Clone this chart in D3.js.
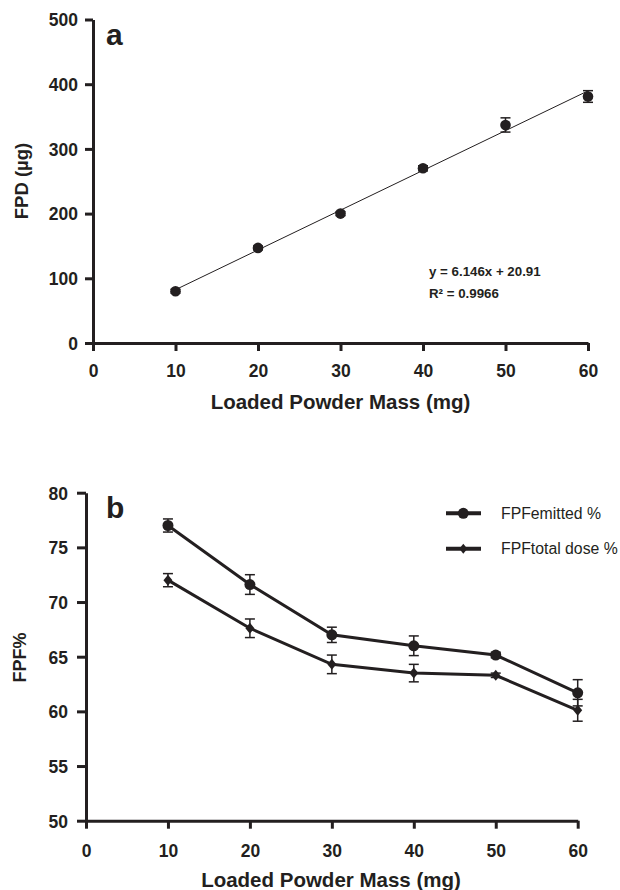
<!DOCTYPE html>
<html>
<head>
<meta charset="utf-8">
<script src="https://cdn.jsdelivr.net/npm/d3@7"></script>
<style>
  html, body { margin: 0; padding: 0; background: #fff; }
  svg { display: block; font-family: "Liberation Sans", Arial, Helvetica, sans-serif; }
</style>
</head>
<body>
<svg id="chart" width="620" height="890"></svg>
<script>
// ---------- Data ----------
const xTicks = [0, 10, 20, 30, 40, 50, 60];
const mass = [10, 20, 30, 40, 50, 60];

// Panel a
const fpd = [80, 147, 200, 270, 337, 381];
const fpdErr = [3, 3, 3, 4, 11, 9];
const fpdTicks = [0, 100, 200, 300, 400, 500];
const slope = 6.146, intercept = 20.91;
const eqLines = ["y = 6.146x + 20.91", "R² = 0.9966"];

// Panel b
const fpfEmitted = [77.0, 71.6, 67.0, 66.0, 65.15, 61.7];
const fpfEmittedErr = [0.6, 0.9, 0.7, 0.9, 0.25, 1.2];
const fpfTotal = [72.0, 67.6, 64.3, 63.5, 63.3, 60.1];
const fpfTotalErr = [0.6, 0.85, 0.85, 0.8, 0.2, 1.0];
const fpfTicks = [50, 55, 60, 65, 70, 75, 80];
const legendLabels = ["FPFemitted %", "FPFtotal dose %"];

const ink = "#231f20";
const svg = d3.select("#chart");

function styleAxis(g) {
  g.selectAll(".domain").attr("stroke", ink).attr("stroke-width", 3);
  g.selectAll(".tick line").attr("stroke", ink).attr("stroke-width", 3);
  g.selectAll(".tick text").attr("fill", ink).attr("font-size", 17.5).attr("font-weight", "bold")
    .attr("font-family", "'Liberation Sans', Arial, sans-serif");
}

function diamondPath(cx, cy, hw, hh) {
  return `M${cx},${cy - hh}L${cx + hw},${cy}L${cx},${cy + hh}L${cx - hw},${cy}Z`;
}

// ---------- Panel a ----------
{
  const x = d3.scaleLinear().domain([0, 60]).range([93, 588]);
  const y = d3.scaleLinear().domain([0, 500]).range([343, 19.5]);
  const g = svg.append("g");

  const xa = g.append("g").attr("transform", `translate(0,${y(0)})`)
    .call(d3.axisBottom(x).tickValues(xTicks).tickSize(8).tickSizeOuter(0).tickPadding(14));
  styleAxis(xa);
  const ya = g.append("g").attr("transform", `translate(${x(0)},0)`)
    .call(d3.axisLeft(y).tickValues(fpdTicks).tickSize(8).tickSizeOuter(0).tickPadding(7));
  styleAxis(ya);
  ya.selectAll(".tick text").attr("dy", "0.36em");

  // regression line
  g.append("line")
    .attr("x1", x(10)).attr("y1", y(slope * 10 + intercept))
    .attr("x2", x(60)).attr("y2", y(slope * 60 + intercept))
    .attr("stroke", ink).attr("stroke-width", 1);

  // error bars
  mass.forEach((m, i) => {
    const cx = x(m), y1 = y(fpd[i] + fpdErr[i]), y2 = y(fpd[i] - fpdErr[i]);
    g.append("line").attr("x1", cx).attr("x2", cx).attr("y1", y1).attr("y2", y2)
      .attr("stroke", ink).attr("stroke-width", 1.5);
    [y1, y2].forEach(yy => g.append("line").attr("x1", cx - 5).attr("x2", cx + 5)
      .attr("y1", yy).attr("y2", yy).attr("stroke", ink).attr("stroke-width", 1.5));
  });

  g.selectAll("circle.pt").data(mass).enter().append("circle")
    .attr("cx", d => x(d)).attr("cy", (d, i) => y(fpd[i])).attr("r", 5.3).attr("fill", ink);

  g.append("text").attr("x", 106).attr("y", 45).text("a")
    .attr("font-size", 30).attr("font-weight", "bold").attr("fill", ink);

  eqLines.forEach((t, i) => g.append("text").attr("x", 429).attr("y", 276 + i * 22).text(t)
    .attr("font-size", 13.3).attr("font-weight", "bold").attr("fill", ink));

  g.append("text").attr("transform", `translate(28,181) rotate(-90)`).attr("text-anchor", "middle")
    .text("FPD (µg)").attr("font-size", 18.5).attr("font-weight", "bold").attr("fill", ink);
  g.append("text").attr("x", 340.5).attr("y", 409).attr("text-anchor", "middle")
    .text("Loaded Powder Mass (mg)").attr("font-size", 20.5).attr("font-weight", "bold").attr("fill", ink);
}

// ---------- Panel b ----------
{
  const x = d3.scaleLinear().domain([0, 60]).range([86, 577.7]);
  const y = d3.scaleLinear().domain([50, 80]).range([820.7, 492.7]);
  const g = svg.append("g");

  const xa = g.append("g").attr("transform", `translate(0,${y(50)})`)
    .call(d3.axisBottom(x).tickValues(xTicks).tickSize(8).tickSizeOuter(0).tickPadding(16));
  styleAxis(xa);
  const ya = g.append("g").attr("transform", `translate(${x(0)},0)`)
    .call(d3.axisLeft(y).tickValues(fpfTicks).tickSize(9).tickSizeOuter(0).tickPadding(9));
  styleAxis(ya);
  ya.selectAll(".tick text").attr("dy", "0.36em");

  const line = d3.line().x((d, i) => x(mass[i])).y(d => y(d));
  [fpfEmitted, fpfTotal].forEach(s => g.append("path").datum(s).attr("d", line)
    .attr("fill", "none").attr("stroke", ink).attr("stroke-width", 3));

  function errBars(vals, errs) {
    mass.forEach((m, i) => {
      const cx = x(m), y1 = y(vals[i] + errs[i]), y2 = y(vals[i] - errs[i]);
      g.append("line").attr("x1", cx).attr("x2", cx).attr("y1", y1).attr("y2", y2)
        .attr("stroke", ink).attr("stroke-width", 1.5);
      [y1, y2].forEach(yy => g.append("line").attr("x1", cx - 5).attr("x2", cx + 5)
        .attr("y1", yy).attr("y2", yy).attr("stroke", ink).attr("stroke-width", 1.5));
    });
  }
  errBars(fpfEmitted, fpfEmittedErr);
  errBars(fpfTotal, fpfTotalErr);

  g.selectAll("circle.em").data(fpfEmitted).enter().append("circle")
    .attr("cx", (d, i) => x(mass[i])).attr("cy", d => y(d)).attr("r", 5.5).attr("fill", ink);
  g.selectAll("path.tot").data(fpfTotal).enter().append("path")
    .attr("d", (d, i) => diamondPath(x(mass[i]), y(d), 4.5, 5.5)).attr("fill", ink);

  g.append("text").attr("x", 106).attr("y", 518).text("b")
    .attr("font-size", 30).attr("font-weight", "bold").attr("fill", ink);

  // legend
  const ly = [513.3, 548.7];
  legendLabels.forEach((t, i) => {
    g.append("line").attr("x1", 446).attr("x2", 481).attr("y1", ly[i]).attr("y2", ly[i])
      .attr("stroke", ink).attr("stroke-width", 4);
    if (i === 0) g.append("circle").attr("cx", 463.3).attr("cy", ly[i]).attr("r", 5.5).attr("fill", ink);
    else g.append("path").attr("d", diamondPath(463.3, ly[i], 4, 5)).attr("fill", ink);
    g.append("text").attr("x", 501).attr("y", ly[i] + 5.5).text(t)
      .attr("font-size", 15.8).attr("fill", ink);
  });

  g.append("text").attr("transform", `translate(26,657.5) rotate(-90)`).attr("text-anchor", "middle")
    .text("FPF%").attr("font-size", 18).attr("font-weight", "bold").attr("fill", ink);
  g.append("text").attr("x", 331).attr("y", 887).attr("text-anchor", "middle")
    .text("Loaded Powder Mass (mg)").attr("font-size", 20.5).attr("font-weight", "bold").attr("fill", ink);
}
</script>
</body>
</html>
